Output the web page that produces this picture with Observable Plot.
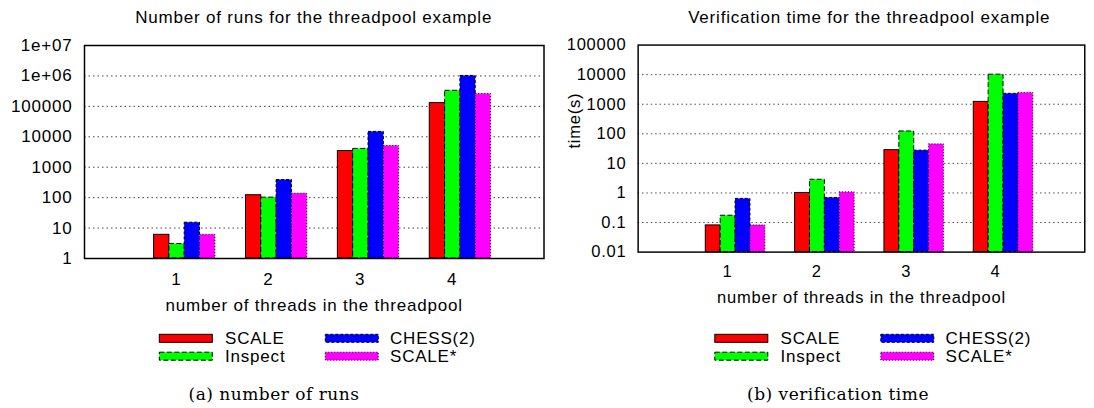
<!DOCTYPE html>
<html>
<head>
<meta charset="utf-8">
<script src="https://cdn.jsdelivr.net/npm/d3@7"></script>
<script src="https://cdn.jsdelivr.net/npm/@observablehq/plot@0.6"></script>
<style>
  html, body { margin: 0; padding: 0; background: #fff; overflow: hidden; width: 1094px; height: 408px; }
  #root { position: relative; width: 1094px; height: 408px; overflow: hidden; }
  #root > svg, #root > .panel { position: absolute; }
  .panel svg { display: block; }
</style>
</head>
<body>
<div id="root"></div>
<script>
// ---------------- data ----------------
const categories = [1, 2, 3, 4];
const seriesNames = ["SCALE", "Inspect", "CHESS(2)", "SCALE*"];

// number of runs
const runsSCALE   = [6, 120, 3400, 128000];
const runsInspect = [3, 100, 4000, 325000];
const runsCHESS   = [15, 380, 14500, 1000000];
const runsSCALEs  = [6, 135, 5000, 255000];

// verification time (s)
const timeSCALE   = [0.08, 1.0, 28, 1200];
const timeInspect = [0.17, 2.8, 120, 10000];
const timeCHESS   = [0.63, 0.68, 27, 2250];
const timeSCALEs  = [0.08, 1.05, 44, 2400];

const runsTicks = [1, 10, 100, 1000, 10000, 100000, 1000000, 10000000];
const runsTickLabels = ["1", "10", "100", "1000", "10000", "100000", "1e+06", "1e+07"];
const timeTicks = [0.01, 0.1, 1, 10, 100, 1000, 10000, 100000];
const timeTickLabels = ["0.01", "0.1", "1", "10", "100", "1000", "10000", "100000"];

const titles = ["Number of runs for the threadpool example", "Verification time for the threadpool example"];
const xLabel = "number of threads in the threadpool";
const yLabels = [null, "time(s)"];
const captions = ["(a) number of runs", "(b) verification time"];

// ---------------- styles ----------------
const seriesColors = ["#ff0000", "#00ff00", "#0000ff", "#ff00ff"];
const seriesDash = [null, "5,2.5", "3,2", "1,2"];
const SANS = "'Liberation Sans', Arial, Helvetica, sans-serif";
const SERIF = "'DejaVu Serif', 'Liberation Serif', serif";
const FS = 17, LS = "0.8px";

const ML = 84, MR = 10.5, MT = 15, MB = 60, FRAME_W = 459.5, FRAME_H = 213;
const SVG_TOP = 30;
const BW = 1 / 6, OFF = 0.243;
const panelLefts = [0, 555.5];

const root = document.getElementById("root");

function makePanel(seriesValues, yTicks, yTickLabels, yTitle) {
  const yMin = yTicks[0], yMax = yTicks[yTicks.length - 1];
  const marks = [];
  marks.push(Plot.ruleY(yTicks.slice(1, -1), {stroke: "#444", strokeWidth: 1, strokeDasharray: "1.5,3"}));
  seriesValues.forEach((vals, j) => {
    const rows = categories.map((c, i) => ({c, v: vals[i]}));
    const opts = {
      x1: d => d.c - OFF + j * BW,
      x2: d => d.c - OFF + (j + 1) * BW,
      y1: () => yMin,
      y2: "v",
      fill: seriesColors[j],
      stroke: "#000",
      strokeWidth: 1
    };
    if (seriesDash[j]) opts.strokeDasharray = seriesDash[j];
    marks.push(Plot.rectY(rows, opts));
  });
  marks.push(Plot.frame({stroke: "#000", strokeWidth: 1.5}));
  marks.push(Plot.axisX({ticks: categories, tickFormat: d => String(d), tickSize: 0, tickPadding: 14, label: null}));
  marks.push(Plot.axisY({ticks: yTicks, tickFormat: d => yTickLabels[yTicks.indexOf(d)], tickSize: 0, tickPadding: 12, label: null}));
  marks.push(Plot.text([xLabel], {text: d => d, frameAnchor: "bottom", dy: 47, lineAnchor: "middle"}));
  if (yTitle) marks.push(Plot.text([yTitle], {text: d => d, frameAnchor: "left", dx: -65.5, rotate: -90, lineAnchor: "middle"}));
  return Plot.plot({
    width: ML + FRAME_W + MR,
    height: MT + FRAME_H + MB,
    marginLeft: ML, marginRight: MR, marginTop: MT, marginBottom: MB,
    x: {type: "linear", domain: [0, 5]},
    y: {type: "log", domain: [yMin, yMax]},
    style: {fontSize: FS + "px", fontFamily: SANS, letterSpacing: LS, color: "#000", background: "transparent", overflow: "visible"},
    marks
  });
}

const panels = [
  makePanel([runsSCALE, runsInspect, runsCHESS, runsSCALEs], runsTicks, runsTickLabels, yLabels[0]),
  makePanel([timeSCALE, timeInspect, timeCHESS, timeSCALEs], timeTicks, timeTickLabels, yLabels[1])
];
panels.forEach((p, k) => {
  const div = document.createElement("div");
  div.className = "panel";
  div.style.left = panelLefts[k] + "px";
  div.style.top = SVG_TOP + "px";
  div.appendChild(p);
  root.appendChild(div);
});

// ---------------- overlay: titles, legends, captions ----------------
const ov = d3.select(root).append("svg")
  .attr("width", 1094).attr("height", 408)
  .style("left", "0px").style("top", "0px").style("pointer-events", "none");

const legendCols = [[159.3, 225], [325.3, 390]];
const legendRows = [[338.3, 344.3], [356.2, 362.3]];
const captionCenters = [274, 838];

panelLefts.forEach((L, k) => {
  ov.append("text")
    .attr("x", L + ML + FRAME_W / 2).attr("y", 23)
    .attr("text-anchor", "middle")
    .style("font-family", SANS).style("font-size", FS + "px").style("letter-spacing", LS)
    .text(titles[k]);

  seriesNames.forEach((name, j) => {
    const col = legendCols[Math.floor(j / 2)], row = legendRows[j % 2];
    const r = ov.append("rect")
      .attr("x", L + col[0]).attr("y", row[0] - 4)
      .attr("width", 53).attr("height", 8)
      .attr("fill", seriesColors[j]).attr("stroke", "#000").attr("stroke-width", 1);
    if (seriesDash[j]) r.attr("stroke-dasharray", seriesDash[j]);
    ov.append("text")
      .attr("x", L + col[1]).attr("y", row[1])
      .style("font-family", SANS).style("font-size", FS + "px").style("letter-spacing", LS)
      .text(name);
  });

  ov.append("text")
    .attr("x", captionCenters[k]).attr("y", 400)
    .attr("text-anchor", "middle")
    .style("font-family", SERIF).style("font-size", "17px").style("letter-spacing", "0.5px")
    .text(captions[k]);
});
</script>
</body>
</html>
